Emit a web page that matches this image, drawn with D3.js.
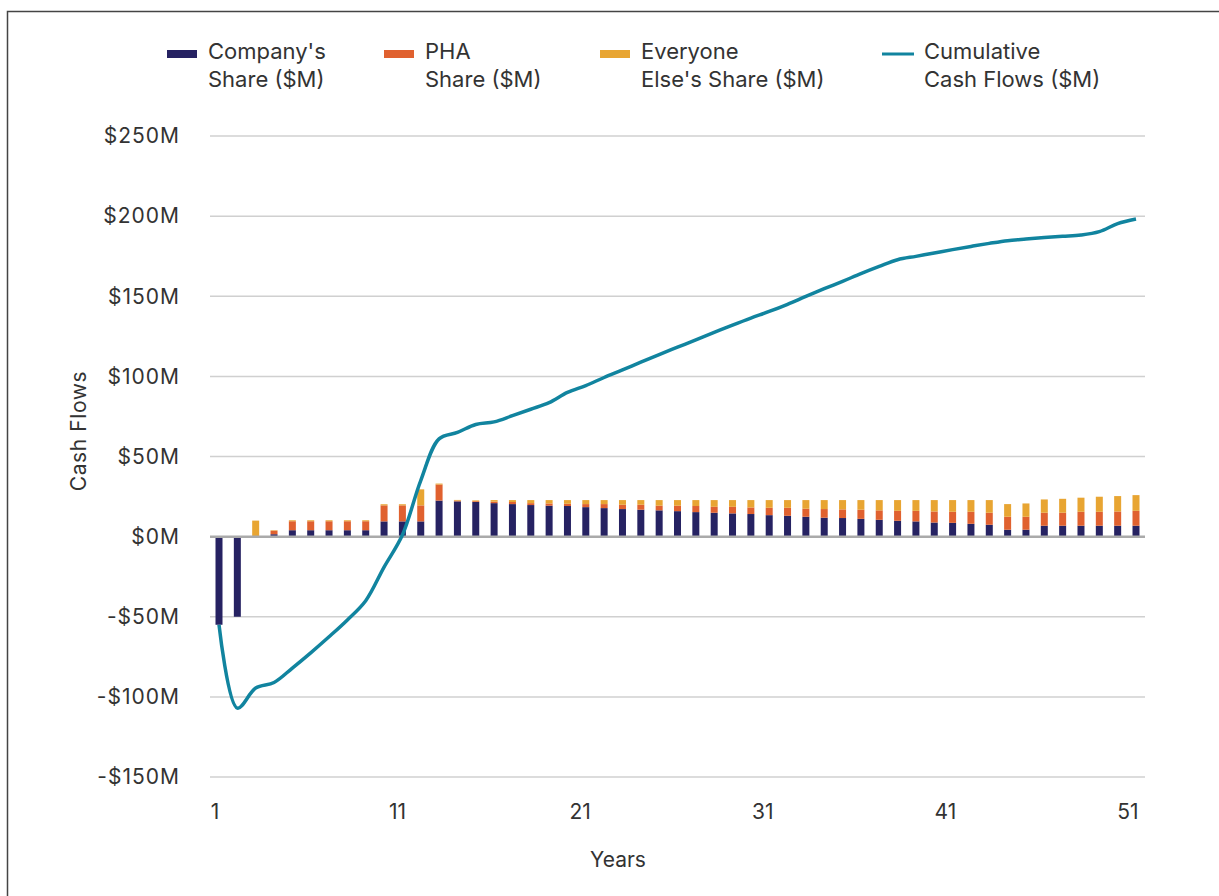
<!DOCTYPE html>
<html>
<head>
<meta charset="utf-8">
<script src="https://cdn.jsdelivr.net/npm/d3@7"></script>
<style>
body { margin: 0; background: #fff; }
text { font-family: Inter, Roboto, "Noto Sans", sans-serif; fill: #333; }
</style>
</head>
<body>
<script>
// years along the x axis
var years = d3.range(1, 52);
var tickYears = [1, 11, 21, 31, 41, 51];
var yTicks = [-150, -100, -50, 0, 50, 100, 150, 200, 250];

// stacked bar values ($M)
var company = [-55, -50, 0, 1.5, 4, 4, 4, 4, 4, 9.5, 9.5, 9.5, 22.5, 22, 21.6, 20.9, 20.3, 19.7, 19.3, 19.1,
	18.4, 17.8, 17.2, 16.8, 16.4, 15.9, 15.3, 14.9, 14.5, 14.1, 13.4, 13, 12.4, 11.8, 11.6, 11.1, 10.5, 9.9,
	9.5, 8.8, 8.6, 8, 7.4, 4.3, 4.3, 6.8, 6.8, 6.8, 6.8, 6.8, 6.8];
var pha = [0, 0, 0, 2.2, 5.6, 5.6, 5.6, 5.6, 5.6, 10, 10, 10, 10, 0.5, 0.5, 0.9, 1.3, 1.2, 1.4, 1.4,
	1.9, 2.5, 2.7, 3.1, 2.9, 3.4, 3.8, 3.7, 4.1, 4.1, 4.6, 5, 5, 5.4, 5.4, 5.7, 5.9, 6.2,
	6.6, 6.9, 6.9, 7.5, 7.5, 8.1, 8.1, 8.1, 8.1, 8.7, 8.7, 8.9, 9.3];
var everyoneElse = [0, 0, 10, 0.3, 0.6, 0.6, 0.6, 0.6, 0.6, 0.7, 0.7, 10, 0.6, 0.4, 0.5, 1, 1.2, 1.9, 2.1, 2.3,
	2.5, 2.5, 2.9, 2.9, 3.5, 3.5, 3.7, 4.2, 4.2, 4.6, 4.8, 4.8, 5.4, 5.6, 5.8, 6, 6.4, 6.7,
	6.7, 7.1, 7.3, 7.3, 7.9, 7.9, 8.3, 8.3, 8.7, 8.8, 9.4, 9.6, 9.8];
// cumulative cash flow line ($M)
var cumulative = [-55, -107, -94.5, -91, -82, -72.5, -62.5, -52, -40, -19, 1, 35, 61, 65, 70, 71.6, 75.5, 79.5, 83.6, 90,
	94.3, 99.3, 104, 108.9, 113.6, 118.2, 122.8, 127.4, 132, 136.4, 140.5, 145, 149.9, 154.7, 159.3, 164.1, 168.6, 172.8,
	174.9, 177, 179.1, 181.1, 183, 184.7, 185.7, 186.6, 187.4, 188.2, 190.3, 195.3, 198.2];

var seriesNames = ["Company's|Share ($M)", "PHA|Share ($M)", "Everyone|Else's Share ($M)", "Cumulative|Cash Flows ($M)"];
var colors = ["#262262", "#e0612f", "#e8a532", "#11849f"];

var W = 1219, H = 896;
var svg = d3.select("body").append("svg").attr("width", W).attr("height", H);

// frame
svg.append("rect")
	.attr("x", 7.5).attr("y", 11.5).attr("width", 1400).attr("height", 1000)
	.style("fill", "none").style("stroke", "#444").style("stroke-width", 1.5);

var x = d3.scalePoint().domain(years).range([219, 1136]);
var xLabel = d3.scalePoint().domain(years).range([215, 1128]);
var y = d3.scaleLinear().domain([-150, 250]).range([777, 136]);
var barW = 7;

// gridlines
svg.append("g").selectAll("line")
	.data(yTicks.filter(function(d) { return d != 0; }))
	.enter().append("line")
	.attr("x1", 210).attr("x2", 1145)
	.attr("y1", function(d) { return y(d); }).attr("y2", function(d) { return y(d); })
	.style("stroke", "#d0d0d0").style("stroke-width", 1.5);

// y tick labels
svg.append("g").selectAll("text")
	.data(yTicks)
	.enter().append("text")
	.attr("x", 180).attr("y", function(d) { return y(d); })
	.attr("dy", "0.35em")
	.attr("text-anchor", "end")
	.style("font-size", "21px")
	.style("letter-spacing", "1px")
	.text(function(d) { return (d < 0 ? "-$" : "$") + Math.abs(d) + "M"; });

// stack the bars: company from zero, then pha and everyone else above
var rows = years.map(function(yr, i) {
	var c = company[i];
	var base = Math.max(c, 0);
	return [
		{year: yr, y0: Math.min(c, 0), y1: base, color: colors[0]},
		{year: yr, y0: base, y1: base + pha[i], color: colors[1]},
		{year: yr, y0: base + pha[i], y1: base + pha[i] + everyoneElse[i], color: colors[2]}
	];
});
svg.append("g").selectAll("rect")
	.data(d3.merge(rows).filter(function(d) { return d.y1 - d.y0 > 0; }))
	.enter().append("rect")
	.attr("x", function(d) { return x(d.year) - barW / 2; })
	.attr("width", barW)
	.attr("y", function(d) { return y(d.y1); })
	.attr("height", function(d) { return y(d.y0) - y(d.y1); })
	.style("fill", function(d) { return d.color; });

// zero line
svg.append("line")
	.attr("x1", 210).attr("x2", 1145)
	.attr("y1", y(0)).attr("y2", y(0))
	.style("stroke", "#aaa").style("stroke-width", 2.5);

// cumulative line
var line = d3.line()
	.x(function(d, i) { return x(years[i]); })
	.y(function(d) { return y(d); })
	.curve(d3.curveCatmullRom.alpha(0.5));
svg.append("path")
	.datum(cumulative)
	.attr("d", line)
	.style("fill", "none").style("stroke", colors[3]).style("stroke-width", 3.5);

// x tick labels
svg.append("g").selectAll("text")
	.data(tickYears)
	.enter().append("text")
	.attr("x", function(d) { return xLabel(d); })
	.attr("y", 812).attr("dy", "0.35em")
	.attr("text-anchor", "middle")
	.style("font-size", "21px")
	.text(function(d) { return d; });

svg.append("text")
	.attr("x", 618).attr("y", 860).attr("dy", "0.35em")
	.attr("text-anchor", "middle")
	.style("font-size", "21px")
	.text("Years");

svg.append("text")
	.attr("transform", "translate(79,431) rotate(-90)")
	.attr("dy", "0.35em")
	.attr("text-anchor", "middle")
	.style("font-size", "21px")
	.style("letter-spacing", "0.6px")
	.text("Cash Flows");

// legend
var legendX = [167, 384, 600, 882];
var legend = svg.append("g").selectAll("g")
	.data(seriesNames)
	.enter().append("g")
	.attr("transform", function(d, i) { return "translate(" + legendX[i] + ",0)"; });
legend.append("rect")
	.attr("x", 0)
	.attr("y", function(d, i) { return i == 3 ? 52.5 : 50; })
	.attr("width", function(d, i) { return i == 3 ? 32 : 30; })
	.attr("height", function(d, i) { return i == 3 ? 3 : 8; })
	.style("fill", function(d, i) { return colors[i]; });
legend.append("text")
	.attr("x", function(d, i) { return i == 3 ? 42 : 41; })
	.attr("y", 51).attr("dy", "0.35em")
	.style("font-size", "22px")
	.text(function(d) { return d.split("|")[0]; });
legend.append("text")
	.attr("x", function(d, i) { return i == 3 ? 42 : 41; })
	.attr("y", 79).attr("dy", "0.35em")
	.style("font-size", "22px")
	.text(function(d) { return d.split("|")[1]; });
</script>
</body>
</html>
